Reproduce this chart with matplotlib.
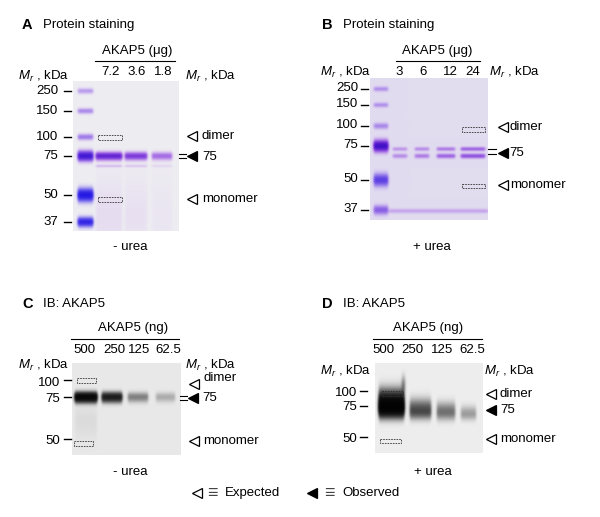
import numpy as np
import matplotlib
matplotlib.use("Agg")
import matplotlib.pyplot as plt
from matplotlib.patches import Rectangle

plt.rcParams['font.family'] = ['Liberation Sans', 'DejaVu Sans']
plt.rcParams['mathtext.fontset'] = 'custom'
plt.rcParams['mathtext.rm'] = 'Liberation Sans'
plt.rcParams['mathtext.it'] = 'Liberation Sans:italic'

# ---------------- data ----------------
A_loads = ['7.2', '3.6', '1.8']
A_band = [1.4, 1.05, 0.6]          # 75 kDa band strength
A_ladder_kda = ['250', '150', '100', '75', '50', '37']
A_ladder = [0.35, 0.45, 0.55, 1.8, 2.1, 1.7]

B_loads = ['3', '6', '12', '24']
B_upper = [0.3, 0.35, 0.45, 0.6]
B_lower = [0.35, 0.45, 0.6, 0.75]
B_ladder_kda = ['250', '150', '100', '75', '50', '37']
B_ladder = [0.35, 0.35, 0.4, 2.0, 1.1, 0.7]

C_loads = ['500', '250', '125', '62.5']
C_band = [3.4, 2.1, 0.6, 0.3]
C_kda = ['100', '75', '50']

D_loads = ['500', '250', '125', '62.5']
D_band = [4.5, 1.2, 0.75, 0.42]
D_kda = ['100', '75', '50']

# ---------------- layout (pixels) ----------------
FS = 9.5
fig = plt.figure(figsize=(6.0, 5.17), dpi=100)
ax = fig.add_axes([0, 0, 1, 1])
ax.set_axis_off()

PURPLE = np.array([0.62, 1.3, 0.1])
BLUE = np.array([0.9, 1.05, 0.03])
MIX = 0.6 * PURPLE + 0.4 * BLUE
GRAY = np.array([1.0, 1.0, 1.0])


def gel(x0, x1, y0, y1, bg, bands, scale=3):
    W = int((x1 - x0) * scale)
    H = int((y1 - y0) * scale)
    X = x0 + (np.arange(W) + 0.5) / scale
    Y = y0 + (np.arange(H) + 0.5) / scale
    A = np.zeros((H, W, 3))
    for (xa, xb, yc, su, sd, amp, coeff) in bands:
        hx = 0.5 * (np.tanh((X - xa) / 1.3) - np.tanh((X - xb) / 1.3))
        s = np.where(Y < yc, su, sd)
        hy = np.exp(-0.5 * ((Y - yc) / s) ** 2)
        A += amp * np.outer(hy, hx)[:, :, None] * coeff
    img = np.array(bg, float) * np.exp(-A)
    ax.imshow(np.clip(img / 255, 0, 1), extent=(x0, x1, y1, y0),
              origin='upper', interpolation='bilinear', aspect='auto', zorder=1)


def dbox(x0, x1, y0, y1):
    ax.add_patch(Rectangle((x0, y0), x1 - x0, y1 - y0, fill=False,
                           ec='#333333', lw=0.6, ls=(0, (2, 1.2)), zorder=3))


def tri(x, y, filled):
    ax.plot([x], [y], marker='<', ms=7, mew=0.9, mec='black',
            mfc='black' if filled else 'none', zorder=4)


def markers(labels, ys, xr, tx0, tx1, dy=0):
    for lab, y in zip(labels, ys):
        ax.text(xr, y + dy, lab, ha='right', va='center', fontsize=FS)
        ax.plot([tx0, tx1], [y, y], color='black', lw=1.0)


def eqmark(x0, x1, y, gap=2.0):
    for d in (-gap, gap):
        ax.plot([x0, x1], [y + d, y + d], color='black', lw=0.8)


def header(x, y, letter, title):
    ax.text(x, y, letter, fontsize=FS + 1, fontweight='bold', va='center', ha='left')
    ax.text(x + 21, y, title, fontsize=FS, va='center', ha='left')


MR = r'$M_r$ , kDa'

# ================= Panel A =================
header(22, 25, 'A', 'Protein staining')
ax.text(137, 51, 'AKAP5 (\u03bcg)', ha='center', va='center', fontsize=FS)
ax.plot([95, 175], [61, 61], color='black', lw=0.8)
A_lane_x = [(96, 122), (125, 147), (152, 172)]
for lab, (xa, xb) in zip(A_loads, A_lane_x):
    ax.text((xa + xb) / 2 + 1, 72, lab, ha='center', va='center', fontsize=FS)
ax.text(18, 76, MR, ha='left', va='center', fontsize=FS)
ax.text(185, 76, MR, ha='left', va='center', fontsize=FS)
A_rows = [91, 111, 137, 156, 195, 222]
A_sig = [1.8, 1.8, 2.0, 3.2, 4.0, 3.0]
A_col = [MIX, MIX, MIX, 0.65 * PURPLE + 0.35 * BLUE, BLUE, BLUE]
bands = []
for amp, y, s, c in zip(A_ladder, A_rows, A_sig, A_col):
    bands.append((78, 93, y, s, s, amp, c))
for amp, (xa, xb) in zip(A_band, A_lane_x):
    bands.append((xa, xb, 156, 2.4, 2.6, amp, PURPLE))
    bands.append((xa, xb, 166, 1.0, 1.0, amp * 0.12, PURPLE))
    bands.append((xa, xb, 215, 25, 25, amp * 0.04, PURPLE))
gel(73, 179, 81, 231, (238, 237, 242), bands)
markers(A_ladder_kda, A_rows, 58, 64, 71)
dbox(98, 122, 135, 140)
dbox(98, 122, 197, 202)
tri(192, 136, False)
ax.text(202, 136, 'dimer', ha='left', va='center', fontsize=FS)
eqmark(179, 186, 156)
tri(192, 156, True)
ax.text(202, 157, '75', ha='left', va='center', fontsize=FS)
tri(192, 199, False)
ax.text(202, 199, 'monomer', ha='left', va='center', fontsize=FS)
ax.text(130, 247, '- urea', ha='center', va='center', fontsize=FS)

# ================= Panel B =================
header(322, 25, 'B', 'Protein staining')
ax.text(437, 51, 'AKAP5 (\u03bcg)', ha='center', va='center', fontsize=FS)
ax.plot([396, 480], [61, 61], color='black', lw=0.8)
B_lane_x = [(393, 407), (415, 429), (437, 455), (461, 485)]
B_lab_x = [399, 423, 450, 473]
for lab, x in zip(B_loads, B_lab_x):
    ax.text(x, 72, lab, ha='center', va='center', fontsize=FS)
ax.text(320, 72, MR, ha='left', va='center', fontsize=FS)
ax.text(489, 72, MR, ha='left', va='center', fontsize=FS)
B_rows = [89, 105, 126, 146, 180, 210]
B_sig = [1.6, 1.6, 2.0, 3.5, 4.0, 3.0]
B_col = [MIX, MIX, MIX, PURPLE, 0.7 * BLUE + 0.3 * PURPLE, MIX]
bands = []
for amp, y, s, c in zip(B_ladder, B_rows, B_sig, B_col):
    bands.append((374, 388, y, s, s, amp, c))
for up, lo, (xa, xb) in zip(B_upper, B_lower, B_lane_x):
    bands.append((xa, xb, 149, 1.3, 1.3, up, PURPLE))
    bands.append((xa, xb, 156, 1.5, 1.5, lo, PURPLE))
bands.append((389, 488, 211, 1.5, 1.5, 0.22, PURPLE))
gel(370, 488, 78, 220, (226, 220, 240), bands)
markers(B_ladder_kda, B_rows, 358, 361, 368, dy=-1)
dbox(462, 485, 127, 132)
dbox(462, 485, 184, 188)
tri(503, 127, False)
ax.text(510, 127, 'dimer', ha='left', va='center', fontsize=FS)
eqmark(488, 496, 151.5, gap=2.5)
tri(503, 153, True)
ax.text(509, 153, '75', ha='left', va='center', fontsize=FS)
tri(503, 185, False)
ax.text(510, 185, 'monomer', ha='left', va='center', fontsize=FS)
ax.text(432, 247, '+ urea', ha='center', va='center', fontsize=FS)

# ================= Panel C =================
header(22, 304, 'C', 'IB: AKAP5')
ax.text(133, 328, 'AKAP5 (ng)', ha='center', va='center', fontsize=FS)
ax.plot([71, 179], [339, 339], color='black', lw=0.8)
C_lane_x = [(75, 97), (102, 122), (128, 148), (156, 175)]
C_lab_x = [84, 114, 139, 168]
for lab, x in zip(C_loads, C_lab_x):
    ax.text(x, 350, lab, ha='center', va='center', fontsize=FS)
ax.text(18, 365, MR, ha='left', va='center', fontsize=FS)
ax.text(185, 365, MR, ha='left', va='center', fontsize=FS)
C_rows = [380, 397, 439]
bands = []
for amp, (xa, xb) in zip(C_band, C_lane_x):
    bands.append((xa, xb, 397, 3.0, 3.4, amp, GRAY))
bands.append((75, 97, 420, 10, 14, 0.06, GRAY))
gel(72, 181, 363, 455, (233, 233, 233), bands)
markers(C_kda, C_rows, 60, 64, 71, dy=2.5)
dbox(77, 96, 378, 383)
dbox(74, 93, 441, 446)
tri(194, 384, False)
ax.text(203, 378, 'dimer', ha='left', va='center', fontsize=FS)
eqmark(180, 187, 398)
tri(193, 398, True)
ax.text(202, 398, '75', ha='left', va='center', fontsize=FS)
tri(194, 441, False)
ax.text(203, 441, 'monomer', ha='left', va='center', fontsize=FS)
ax.text(130, 472, '- urea', ha='center', va='center', fontsize=FS)

# ================= Panel D =================
header(322, 304, 'D', 'IB: AKAP5')
ax.text(428, 328, 'AKAP5 (ng)', ha='center', va='center', fontsize=FS)
ax.plot([373, 482], [339, 339], color='black', lw=0.8)
D_lane_x = [(379, 404), (410, 431), (437, 455), (461, 476)]
D_lab_x = [383, 412, 442, 472]
for lab, x in zip(D_loads, D_lab_x):
    ax.text(x, 350, lab, ha='center', va='center', fontsize=FS)
ax.text(320, 371, MR, ha='left', va='center', fontsize=FS)
ax.text(484, 371, MR, ha='left', va='center', fontsize=FS)
D_rows = [391, 406, 437]
bands = []
D_centre = [407, 411, 412, 414]
D_up = [9, 7, 6, 5]
D_dn = [6, 5, 5, 4]
for amp, (xa, xb), yc, su, sd in zip(D_band, D_lane_x, D_centre, D_up, D_dn):
    bands.append((xa, xb, yc, su, sd, amp, GRAY))
bands.append((402, 405, 385, 6, 6, 0.6, GRAY))
gel(375, 483, 363, 453, (238, 238, 238), bands)
markers(D_kda, D_rows, 357, 360, 367, dy=1.5)
dbox(382, 403, 391, 396)
dbox(380, 401, 439, 443)
tri(491, 394, False)
ax.text(500, 394, 'dimer', ha='left', va='center', fontsize=FS)
tri(491, 410, True)
ax.text(500, 410, '75', ha='left', va='center', fontsize=FS)
tri(491, 439, False)
ax.text(500, 439, 'monomer', ha='left', va='center', fontsize=FS)
ax.text(433, 472, '+ urea', ha='center', va='center', fontsize=FS)

# ================= legend =================
tri(197, 493, False)
ax.text(212.5, 493, '\u2261', ha='center', va='center', fontsize=13, color='#444444')
ax.text(225, 493, 'Expected', ha='left', va='center', fontsize=FS)
tri(312, 493, True)
ax.text(329.5, 493, '\u2261', ha='center', va='center', fontsize=13, color='#444444')
ax.text(342, 493, 'Observed', ha='left', va='center', fontsize=FS)

ax.set_xlim(0, 600)
ax.set_ylim(517, 0)
fig.savefig('out.png', dpi=100)
